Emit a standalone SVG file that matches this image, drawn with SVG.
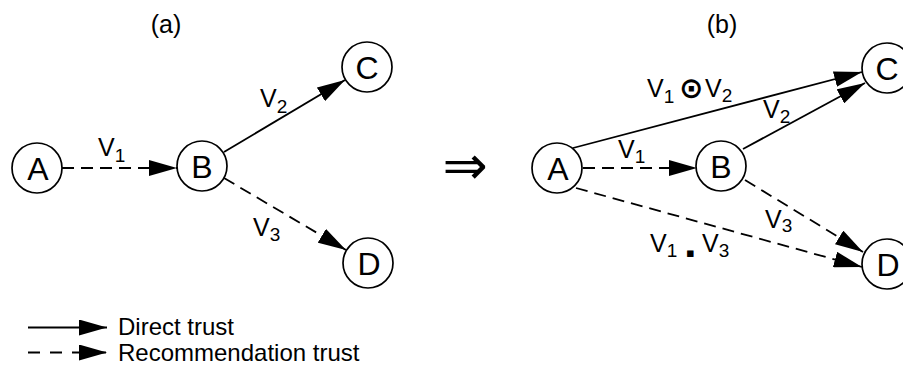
<svg xmlns="http://www.w3.org/2000/svg" width="903" height="368" viewBox="0 0 903 368">
  <style>
    .node circle { fill: #fff; stroke: #000; stroke-width: 1.7; }
    .node text { font-family: "Liberation Sans", Arial, sans-serif; font-size: 32px; text-anchor: middle; fill: #000; }
    .edge { stroke: #000; stroke-width: 1.8; fill: none; marker-end: url(#arrow); }
    .dash { stroke-dasharray: 12 7; }
    .lbl { font-family: "Liberation Sans", Arial, sans-serif; font-size: 25px; fill: #000; }
    .sub { font-size: 19px; }
    .op { font-family: "DejaVu Sans", sans-serif; }
    .title { font-family: "Liberation Sans", Arial, sans-serif; font-size: 25px; text-anchor: middle; fill: #000; }
    .legend { font-family: "Liberation Sans", Arial, sans-serif; font-size: 24px; fill: #000; }
  </style>
  <defs>
    <marker id="arrow" markerUnits="userSpaceOnUse" markerWidth="28" markerHeight="16" refX="28" refY="8" orient="auto" viewBox="0 0 28 16">
      <path d="M0,0 L28,8 L0,16 Z" fill="#000"/>
    </marker>
  </defs>
  <rect width="903" height="368" fill="#fff"/>

  <!-- panel titles -->
  <text class="title" x="166" y="33">(a)</text>
  <text class="title" x="722" y="33">(b)</text>

  <!-- implication arrow -->
  <text x="465" y="184" font-family="DejaVu Sans, sans-serif" font-size="54" text-anchor="middle" fill="#000">⇒</text>

  <!-- connectors -->
  <g id="connectors">
    <!-- panel (a) -->
    <line class="edge dash" x1="62" y1="168" x2="177" y2="168"/>
    <line class="edge" x1="224" y1="152" x2="345" y2="80"/>
    <line class="edge dash" x1="224" y1="178" x2="346" y2="250"/>
    <!-- panel (b) -->
    <line class="edge" x1="573" y1="148" x2="862" y2="72"/>
    <line class="edge" x1="743" y1="149" x2="865" y2="83"/>
    <line class="edge dash" x1="583" y1="168" x2="697" y2="168"/>
    <line class="edge dash" x1="745" y1="180" x2="863" y2="252"/>
    <line class="edge dash" x1="576" y1="188" x2="862" y2="267"/>
  </g>

  <!-- edge labels -->
  <g id="labels">
    <text class="lbl" x="98" y="156">V<tspan class="sub" dy="6">1</tspan></text>
    <text class="lbl" x="260" y="107">V<tspan class="sub" dy="6">2</tspan></text>
    <text class="lbl" x="253" y="236">V<tspan class="sub" dy="5">3</tspan></text>

    <text class="lbl" x="647" y="97">V<tspan class="sub" dy="6">1</tspan><tspan class="op" x="679" dy="-5" font-size="29" font-weight="bold">⊙</tspan><tspan x="705" dy="-1">V</tspan><tspan class="sub" dy="5">2</tspan></text>
    <text class="lbl" x="763" y="118">V<tspan class="sub" dy="5">2</tspan></text>
    <text class="lbl" x="618" y="158">V<tspan class="sub" dy="5">1</tspan></text>
    <text class="lbl" x="765" y="228">V<tspan class="sub" dy="4">3</tspan></text>
    <text class="lbl" x="650" y="252">V<tspan class="sub" dy="5">1</tspan><tspan class="op" x="686" dy="0" font-size="13">▪</tspan><tspan x="702" dy="-5">V</tspan><tspan class="sub" dy="5">3</tspan></text>
  </g>

  <!-- panel (a) nodes -->
  <g id="a-A" class="node"><circle cx="37" cy="168" r="25"/><text x="38" y="179.5">A</text></g>
  <g id="a-B" class="node"><circle cx="202" cy="166" r="25"/><text x="202" y="177.5">B</text></g>
  <g id="a-C" class="node"><circle cx="367" cy="67" r="25"/><text x="367" y="78.5">C</text></g>
  <g id="a-D" class="node"><circle cx="368" cy="263" r="25"/><text x="369" y="274.5">D</text></g>

  <!-- panel (b) nodes -->
  <g id="b-A" class="node"><circle cx="557" cy="168" r="25"/><text x="558" y="179.5">A</text></g>
  <g id="b-B" class="node"><circle cx="721" cy="166" r="25"/><text x="721" y="177.5">B</text></g>
  <g id="b-C" class="node"><circle cx="887" cy="68" r="25"/><text x="887" y="79.5">C</text></g>
  <g id="b-D" class="node"><circle cx="887" cy="264" r="25"/><text x="888" y="275.5">D</text></g>

  <!-- legend -->
  <g id="legend">
    <line class="edge" x1="28" y1="327.5" x2="107" y2="327.5"/>
    <text class="legend" x="118" y="335">Direct trust</text>
    <line class="edge" x1="28" y1="352.5" x2="107" y2="352.5" stroke-dasharray="12 10"/>
    <text class="legend" x="118" y="361">Recommendation trust</text>
  </g>
</svg>
